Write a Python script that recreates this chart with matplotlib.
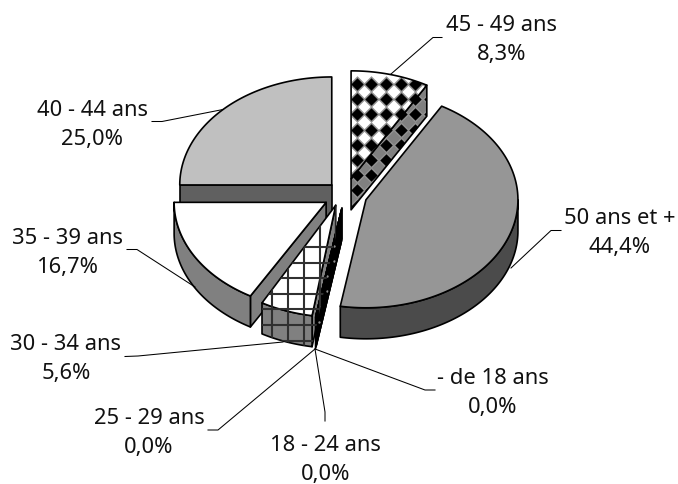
import numpy as np
import matplotlib
matplotlib.use('Agg')
import matplotlib.pyplot as plt
from matplotlib.patches import Polygon

plt.rcParams['font.family'] = 'Noto Sans'

ages = ['45 - 49 ans', '50 ans et +', '- de 18 ans', '18 - 24 ans',
        '25 - 29 ans', '30 - 34 ans', '35 - 39 ans', '40 - 44 ans']
shares = [8.3, 44.4, 0.0, 0.0, 0.0, 5.6, 16.7, 25.0]

explode = [0.15, 0.145, 0.125, 0.14, 0.155, 0.145, 0.145, 0.125]
top_colors = ['white', '#969696', 'black', 'black', 'black', 'white', 'white', '#c0c0c0']
side_colors = ['#808080', '#4b4b4b', 'black', 'black', 'black', '#808080', '#808080', '#606060']
patterns = ['diamond', None, 'dots', 'dots', 'dots', 'grid', None, None]

# back to front
draw_order = [7, 0, 1, 6, 5, 2, 3, 4]

# perspective pulls the tip of the 30-34 slice up and to the left
tip_shift = {5: (-2.0, -4.0)}

# label centre x, y of the two text lines
label_pos = [(501.7, 40), (619.5, 233), (492.5, 393), (325.5, 460),
             (149, 433), (66, 359), (67.5, 253), (92.5, 124.5)]
leaders = [[(442, 38.5), (433, 38.5), (391, 75)],
           [(561, 231.5), (551, 231.5), (511, 269)],
           [(435, 391), (425, 391), (315, 350)],
           [(325, 422), (325, 413), (315, 350)],
           [(208, 431), (218, 431), (315, 350)],
           [(125, 357.5), (138, 357), (283, 343)],
           [(127, 250.5), (137, 250.5), (195, 288)],
           [(152, 122.5), (162, 122.5), (223, 110.5)]]

X0, Y0 = 345.2, 195.5
RX, RY = 152.0, 108.0
DEPTH = 31.0

fig = plt.figure(figsize=(6.78, 4.85), dpi=100)
ax = fig.add_axes([0, 0, 1, 1])
ax.set_xlim(0, 678)
ax.set_ylim(485, 0)
ax.axis('off')


def rim_point(c, deg, drop=0.0):
    t = np.radians(deg)
    return (c[0] + RX * np.sin(t), c[1] - RY * np.cos(t) + drop)


def add_pattern(poly, kind):
    if kind == 'diamond':
        gx, gy = np.meshgrid(np.arange(342.2, 430, 14.6), np.arange(85, 215, 15.2))
        halo = ax.scatter(gx.ravel(), gy.ravel(), s=72, marker='D', color='#909090', linewidths=0)
        core = ax.scatter(gx.ravel(), gy.ravel(), s=40, marker='D', color='black', linewidths=0)
        halo.set_clip_path(poly)
        core.set_clip_path(poly)
    elif kind == 'grid':
        xs = np.arange(255.7, 345, 16)
        ys = np.arange(248, 360, 15.6)
        v = ax.vlines(xs, 200, 360, color='#303030', lw=1.5)
        h = ax.hlines(ys, 240, 350, color='#303030', lw=1.5)
        v.set_clip_path(poly)
        h.set_clip_path(poly)
    elif kind == 'dots':
        gx, gy = np.meshgrid(np.arange(319, 345, 7.6), np.arange(231.5, 350, 15.2))
        d = ax.scatter(gx.ravel(), gy.ravel(), s=3, color='#909090', linewidths=0)
        d.set_clip_path(poly)


def face(verts, color, kind):
    poly = Polygon(verts, closed=True, facecolor=color, edgecolor='none')
    ax.add_patch(poly)
    if kind:
        add_pattern(poly, kind)
    ax.add_patch(Polygon(verts, closed=True, fill=False, edgecolor='black',
                         lw=1.2, joinstyle='round'))


for line in leaders:
    xs, ys = zip(*line)
    ax.plot(xs, ys, color='black', lw=0.75, solid_joinstyle='round')

total = sum(shares)
ends = np.cumsum(shares) / total * 360.0
starts = np.concatenate(([0.0], ends[:-1]))

for i in draw_order:
    a, b = starts[i], ends[i]
    mid = (a + b) / 2
    t = np.radians(mid)
    c = (X0 + explode[i] * RX * np.sin(t), Y0 - explode[i] * RY * np.cos(t))
    dx, dy = tip_shift.get(i, (0.0, 0.0))
    tip = (c[0] + dx, c[1] + dy)
    low = (tip[0], tip[1] + DEPTH)

    # cut faces facing the viewer
    if np.sin(np.radians(a)) < 0:
        face([tip, rim_point(c, a), rim_point(c, a, DEPTH), low], side_colors[i], patterns[i])
    if np.sin(np.radians(b)) > 0:
        face([tip, rim_point(c, b), rim_point(c, b, DEPTH), low], side_colors[i], patterns[i])

    # outer wall, only the front half of the ellipse shows
    r0, r1 = max(a, 90.0), min(b, 270.0)
    if r1 > r0:
        arc = np.linspace(r0, r1, 80)
        wall = [rim_point(c, d) for d in arc] + [rim_point(c, d, DEPTH) for d in arc[::-1]]
        face(wall, side_colors[i], patterns[i])

    # top surface
    arc = np.linspace(a, b, 120)
    face([tip] + [rim_point(c, d) for d in arc], top_colors[i], patterns[i])

for name, share, (x, y) in zip(ages, shares, label_pos):
    text = name + '\n' + f'{share:.1f}'.replace('.', ',') + '%'
    ax.text(x, y, text, ha='center', va='center', fontsize=15.8,
            color='#111111', linespacing=1.5)

fig.savefig('out.png', dpi=100)
